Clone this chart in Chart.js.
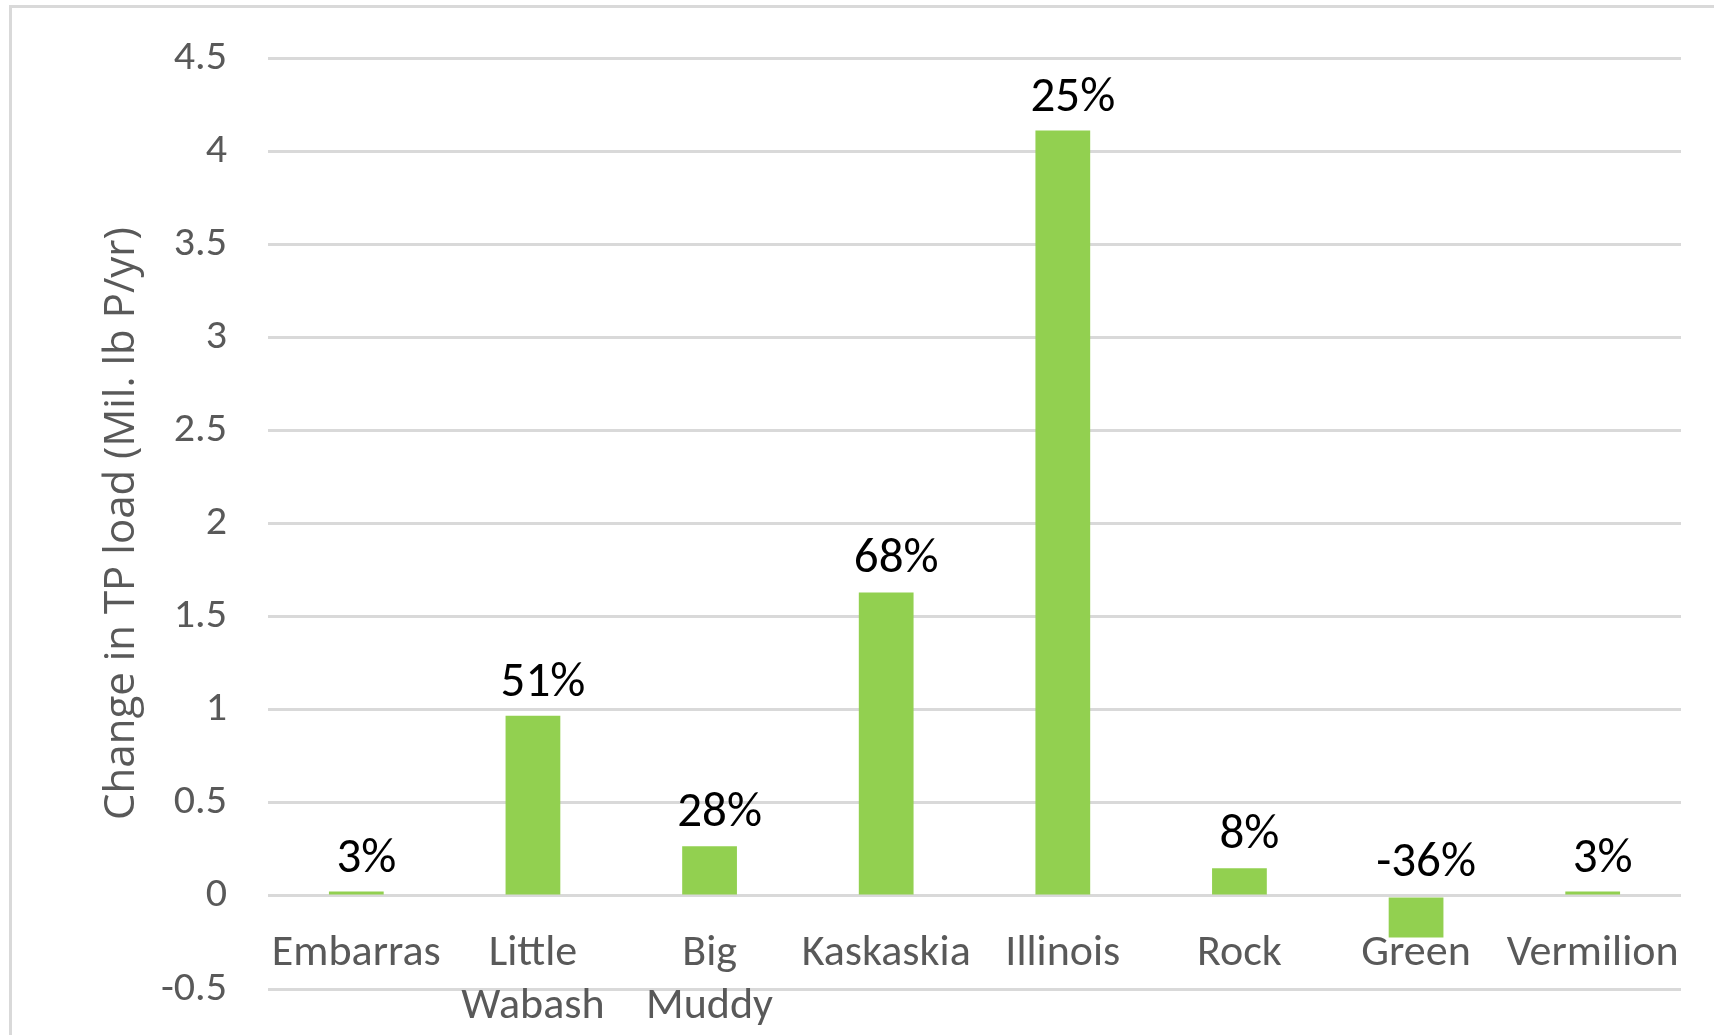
<!DOCTYPE html>
<html>
<head>
<meta charset="utf-8">
<script src="https://cdn.jsdelivr.net/npm/chart.js@4.4.1/dist/chart.umd.min.js"></script>
<style>
  html, body { margin: 0; padding: 0; background: #fff; overflow: hidden; }
  #wrap { position: relative; width: 1714px; height: 1035px; }
  #frame { position: absolute; left: 9px; top: 5px; width: 1800px; height: 1100px; border: 3px solid #d9d9d9; }
  #myChart { position: absolute; left: 0; top: 0; }
</style>
</head>
<body>
<div id="wrap">
  <div id="frame"></div>
  <canvas id="myChart" width="1714" height="1035"></canvas>
</div>
<script>
// data
const rivers = ["Embarras", ["Little", "Wabash"], ["Big", "Muddy"], "Kaskaskia", "Illinois", "Rock", "Green", "Vermilion"];
const tpChange = [0.023, 0.968, 0.267, 1.63, 4.11, 0.148, -0.224, 0.023];
const pctChange = ["3%", "51%", "28%", "68%", "25%", "8%", "-36%", "3%"];

const mainFont = "'Liberation Sans Narrow', Carlito, 'Arial Narrow', sans-serif";
Chart.defaults.font.family = mainFont;

// percent labels over each bar
const barLabels = {
  id: "barLabels",
  afterDatasetsDraw(chart) {
    const ctx = chart.ctx;
    const meta = chart.getDatasetMeta(0);
    const zero = chart.scales.y.getPixelForValue(0);
    ctx.save();
    ctx.font = "49px " + mainFont;
    ctx.fillStyle = "#000000";
    ctx.textAlign = "center";
    ctx.textBaseline = "alphabetic";
    meta.data.forEach(function (bar, i) {
      const top = Math.min(bar.y, zero);
      ctx.fillText(pctChange[i], bar.x + 10, top - 20);
    });
    ctx.restore();
  },
};

const el = document.getElementById("myChart");

new Chart(el, {
  type: "bar",
  data: {
    labels: rivers,
    datasets: [
      {
        label: "Change in TP load",
        data: tpChange,
        backgroundColor: "#92D050",
        borderWidth: 0,
        barPercentage: 0.31,
        categoryPercentage: 1,
      },
    ],
  },
  options: {
    responsive: false,
    animation: false,
    layout: {
      padding: { left: 0, right: 33, top: 58, bottom: 46 },
    },
    scales: {
      x: {
        position: { y: 0 },
        grid: { display: false, drawTicks: false },
        border: { display: false },
        ticks: {
          color: "#595959",
          font: { size: 44, lineHeight: 1.2 },
          padding: 32,
          autoSkip: false,
          maxRotation: 0,
          minRotation: 0,
        },
      },
      y: {
        min: -0.5,
        max: 4.5,
        grid: {
          color: "#d9d9d9",
          lineWidth: 3,
          drawTicks: true,
          tickLength: 41,
          tickColor: "rgba(0,0,0,0)",
        },
        border: { display: false },
        ticks: {
          stepSize: 0.5,
          color: "#595959",
          font: { size: 42 },
          padding: 0,
          callback: function (value) {
            return String(value);
          },
        },
        title: {
          display: true,
          text: "Change in TP load (Mil. lb P/yr)",
          color: "#595959",
          font: { size: 42, family: "'Open Sans', sans-serif" },
          padding: { top: 97, bottom: 0 },
        },
        afterFit: function (scale) {
          scale.width = 268;
        },
      },
    },
    plugins: {
      legend: { display: false },
      tooltip: { enabled: false },
    },
  },
  plugins: [barLabels],
});
</script>
</body>
</html>
